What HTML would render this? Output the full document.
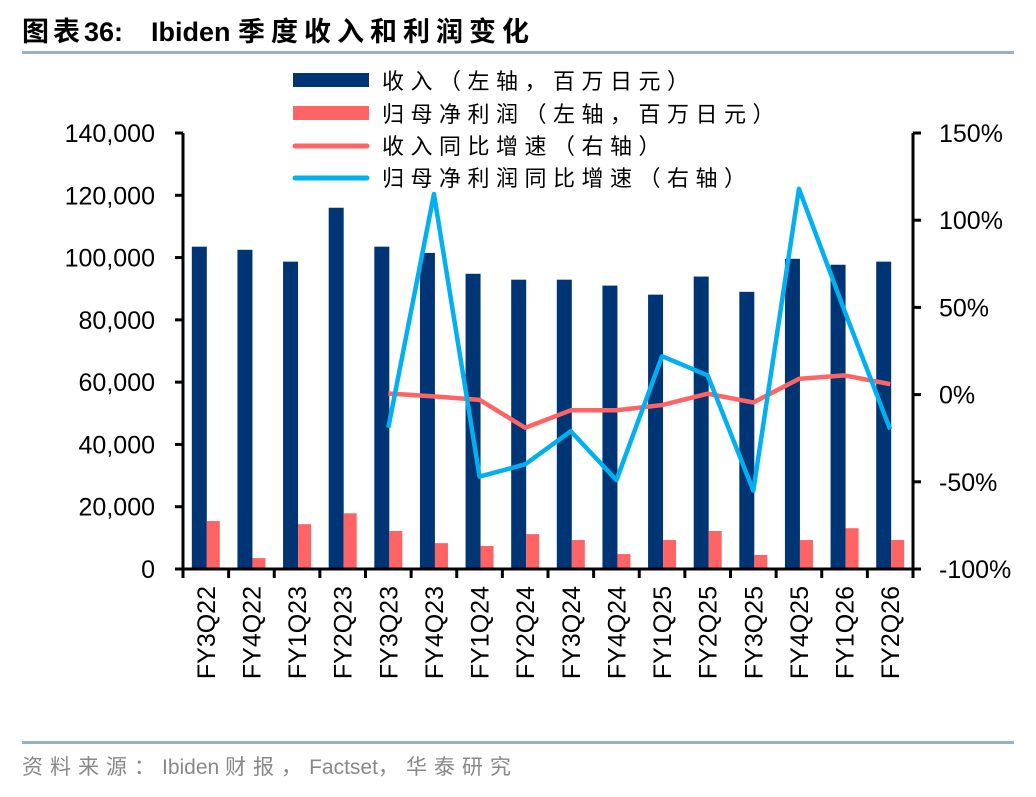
<!DOCTYPE html>
<html><head><meta charset="utf-8"><style>
body{margin:0;background:#fff;width:1036px;height:792px;overflow:hidden;font-family:"Liberation Sans","Noto Sans CJK SC",sans-serif;}
</style></head><body>
<svg id="c" width="1036" height="792" xmlns="http://www.w3.org/2000/svg">
<text x="22" y="41" font-size="27" font-weight="bold" font-family="Liberation Sans,Noto Sans CJK SC,sans-serif"><tspan letter-spacing="4">图表</tspan><tspan>36:</tspan><tspan dx="28">Ibiden </tspan><tspan letter-spacing="6">季度收入和利润变化</tspan></text>
<rect x="22" y="51" width="992" height="3" fill="#9bb0c8"/>
<rect x="22" y="741" width="992" height="3" fill="#9bb0c8"/>
<text x="22" y="774" font-size="21" fill="#888" font-family="Liberation Sans,Noto Sans CJK SC,sans-serif"><tspan letter-spacing="7">资料来源：</tspan><tspan>Ibiden </tspan><tspan letter-spacing="7">财报，</tspan><tspan>Factset</tspan><tspan letter-spacing="7">，华泰研究</tspan></text>
<g id="legend" letter-spacing="6.5">
<rect x="293" y="73" width="76" height="14" fill="#003575"/>
<text x="382" y="89" font-size="22">收入（左轴，百万日元）</text>
<rect x="293" y="106" width="76" height="14" fill="#ff6464"/>
<text x="382" y="122" font-size="22">归母净利润（左轴，百万日元）</text>
<line x1="295" y1="146" x2="367" y2="146" stroke="#ff6464" stroke-width="5" stroke-linecap="round"/>
<text x="382" y="154" font-size="22">收入同比增速（右轴）</text>
<line x1="295" y1="178" x2="367" y2="178" stroke="#00b0f0" stroke-width="5" stroke-linecap="round"/>
<text x="382" y="186" font-size="22">归母净利润同比增速（右轴）</text>
</g>
</svg>
<script>
const categories=["FY3Q22","FY4Q22","FY1Q23","FY2Q23","FY3Q23","FY4Q23","FY1Q24","FY2Q24","FY3Q24","FY4Q24","FY1Q25","FY2Q25","FY3Q25","FY4Q25","FY1Q26","FY2Q26"];
const revenue=[103500,102500,98700,116000,103500,101500,94800,92900,92900,91000,88100,93900,89000,99600,97700,98700];
const profit=[15400,3500,14400,17900,12200,8300,7400,11200,9300,4800,9300,12200,4500,9300,13100,9300];
const revenueGrowth=[null,null,null,null,0.6,-1,-3,-19,-9,-9,-6,0.5,-4.5,9,11,6];
const profitGrowth=[null,null,null,null,-19,115,-47,-40,-21,-49,22,11,-55,118,48,-20];
const leftTicks=[0,20000,40000,60000,80000,100000,120000,140000];
const rightTicks=[-100,-50,0,50,100,150];
const NS="http://www.w3.org/2000/svg";
const svg=document.getElementById('c');
const X0=183,X1=913,YT=133,YB=569;
const bw=(X1-X0)/categories.length;
const yL=v=>YB-(v/140000)*(YB-YT);
const yR=v=>YB-((v+100)/250)*(YB-YT);
const xC=i=>X0+bw*(i+0.5);
function mk(tag,attrs,parent){const e=document.createElementNS(NS,tag);for(const k in attrs)e.setAttribute(k,attrs[k]);(parent||svg).appendChild(e);return e;}
const fmt=v=>v.toLocaleString('en-US');
revenue.forEach((v,i)=>{const r=mk('rect',{x:xC(i)-14,y:yL(v),width:15,height:YB-yL(v),fill:'#003575'});

});
profit.forEach((v,i)=>{const r=mk('rect',{x:xC(i)+1,y:yL(v),width:13,height:YB-yL(v),fill:'#ff6464'});

});
function line(arr,color,name){let d='';arr.forEach((v,i)=>{if(v==null)return;d+=(d?'L':'M')+xC(i)+' '+yR(v);});
const p=mk('path',{d:d,fill:'none',stroke:color,'stroke-width':4.5,'stroke-linejoin':'round'});

}
line(revenueGrowth,'#ff6464','revenue-growth-line');
line(profitGrowth,'#00b0f0','profit-growth-line');
const la=mk('line',{x1:X0,y1:YT,x2:X0,y2:YB+1,stroke:'#000','stroke-width':3});


const ra=mk('line',{x1:X1,y1:YT,x2:X1,y2:YB+1,stroke:'#000','stroke-width':3});


const xa=mk('line',{x1:X0-8,y1:YB,x2:X1+8,y2:YB,stroke:'#000','stroke-width':3});


leftTicks.forEach(v=>{mk('line',{x1:X0-8,y1:yL(v),x2:X0,y2:yL(v),stroke:'#000','stroke-width':3});
const t=mk('text',{x:X0-28,y:yL(v)+9,'font-size':25,'text-anchor':'end'});t.textContent=fmt(v);

});
rightTicks.forEach(v=>{mk('line',{x1:X1,y1:yR(v),x2:X1+8,y2:yR(v),stroke:'#000','stroke-width':3});
const t=mk('text',{x:X1+26,y:yR(v)+9,'font-size':25});t.textContent=v+'%';

});
for(let i=0;i<=categories.length;i++){mk('line',{x1:X0+bw*i,y1:YB,x2:X0+bw*i,y2:YB+9,stroke:'#000','stroke-width':3});}
categories.forEach((c,i)=>{const x=xC(i)+9,y=586;
const t=mk('text',{x:x,y:y,'font-size':25,'text-anchor':'end',transform:`rotate(-90 ${x} ${y})`});t.textContent=c;

});
</script>
</body></html>
